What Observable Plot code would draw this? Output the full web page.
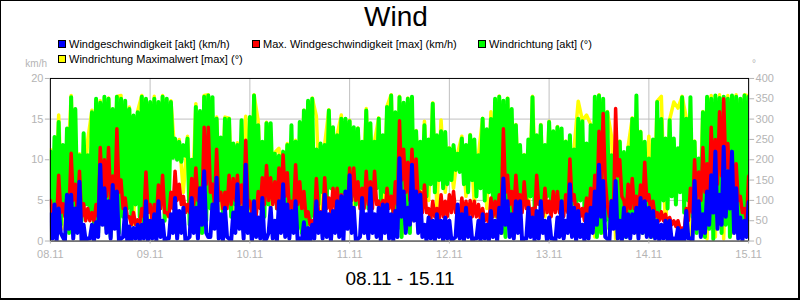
<!DOCTYPE html>
<html><head><meta charset="utf-8">
<script src="https://cdn.jsdelivr.net/npm/d3@7"></script>
<script src="https://cdn.jsdelivr.net/npm/@observablehq/plot@0.6"></script>
<style>
html,body{margin:0;padding:0;background:#fff;}
#box{position:relative;width:800px;height:300px;box-sizing:border-box;border:1px solid #000;border-right-width:2px;border-bottom-width:2px;font-family:"Liberation Sans",Arial,sans-serif;overflow:hidden;background:#fff;}
.abs{position:absolute;white-space:nowrap;line-height:1;}
.sw{position:absolute;width:6px;height:6px;border:1px solid #000;}
#plot{position:absolute;left:-1px;top:59px;}
</style></head><body>
<div id="box">
  <div class="abs" style="left:-1px;top:2px;width:792px;text-align:center;font-size:28px;color:#000;">Wind</div>
  <div class="sw" style="left:57px;top:39px;background:#0000ff;"></div>
  <div class="abs" style="left:68px;top:38px;font-size:11px;color:#000;">Windgeschwindigkeit [akt] (km/h)</div>
  <div class="sw" style="left:251px;top:39px;background:#ff0000;"></div>
  <div class="abs" style="left:262px;top:38px;font-size:11px;color:#000;">Max. Windgeschwindigkeit [max] (km/h)</div>
  <div class="sw" style="left:477px;top:39px;background:#00ff00;"></div>
  <div class="abs" style="left:488px;top:38px;font-size:11px;color:#000;">Windrichtung [akt] (°)</div>
  <div class="sw" style="left:57px;top:54px;background:#ffff00;"></div>
  <div class="abs" style="left:68px;top:53px;font-size:11px;color:#000;">Windrichtung Maximalwert [max] (°)</div>
  <div class="abs" style="left:0px;top:57.5px;width:46px;text-align:right;font-size:10px;color:#b4b4b4;">km/h</div>
  <div class="abs" style="left:751px;top:57.5px;font-size:10px;color:#b4b4b4;">°</div>
  <div id="plot"></div>
  <div class="abs" style="left:0px;top:268px;width:798px;text-align:center;font-size:19px;color:#000;">08.11 - 15.11</div>
</div>
<script>
// x axis: hours since 08.11 00:00
const dayPositions = [0, 24, 48, 72, 96, 120, 144, 168];
const dayLabels = ["08.11", "09.11", "10.11", "11.11", "12.11", "13.11", "14.11", "15.11"];
const kmhTicks = [0, 5, 10, 15, 20];
const degTicks = [0, 50, 100, 150, 200, 250, 300, 350, 400];

// Windrichtung [akt] (°), half-hourly
const windDirection = [
220,60,256,90,293,40,236,70,277,20,354,30,325,80,211,50,265,90,211,60,317,40,350,20,340,70,355,30,350,10,325,40,355,20,350,60,345,80,325,50,309,90,317,60,355,40,350,80,
342,60,350,30,342,90,355,50,350,70,342,205,252,200,244,195,236,210,252,40,200,60,330,30,320,20,355,50,358,80,354,40,301,100,255,70,301,120,300,60,240,90,236,110,297,50,244,80,
305,40,358,70,285,100,244,60,290,90,290,120,215,80,210,110,220,60,236,90,285,50,244,30,293,20,321,10,345,40,350,60,225,90,240,120,236,100,321,130,280,110,260,90,301,120,301,80,
295,110,280,90,277,120,244,100,321,80,290,110,244,130,301,100,260,120,330,90,358,60,317,30,354,10,340,40,350,20,355,60,270,100,244,130,285,110,250,140,338,120,260,150,270,130,268,140,
228,150,236,175,215,170,252,140,236,120,260,150,250,110,211,130,301,100,275,120,300,90,350,60,355,20,345,10,350,40,325,70,285,100,236,120,211,90,250,110,354,80,260,100,285,70,236,110,
293,90,270,120,280,100,277,80,244,110,260,90,225,70,301,100,295,80,240,60,285,40,355,10,358,20,350,50,317,30,211,60,203,20,244,40,219,10,230,50,301,30,358,60,268,20,244,40,
203,10,250,50,342,70,300,100,252,80,297,110,252,90,228,120,354,70,301,100,354,60,244,20,203,40,317,10,355,30,350,5,358,60,352,20,355,40,350,10,358,50,355,20,350,40,358,30,355
];

// Windrichtung Maximalwert [max] (°), hourly
const windDirectionMax = [
225,60,310,30,150,358,60,215,100,250,322,80,345,40,352,70,356,358,60,330,40,320,358,30,
60,356,50,358,60,345,210,250,120,258,60,338,20,358,360,40,305,80,305,302,60,242,90,307,
60,360,295,40,292,80,218,228,60,240,90,248,40,322,50,352,307,60,238,323,100,262,310,90,
297,70,278,100,326,80,246,303,60,332,360,40,356,20,352,50,272,60,295,100,340,80,298,120,
230,130,217,258,110,262,90,213,302,80,318,60,357,20,352,60,287,80,213,60,356,90,287,60,
295,80,282,60,246,40,227,344,297,310,287,10,360,20,319,258,5,246,20,232,303,20,270,40,
258,10,344,356,20,299,342,327,356,303,5,246,30,319,5,358,10,360,5,358,20,360,30,360,357
];

// Max. Windgeschwindigkeit [max] (km/h), half-hourly
const windSpeedMax = [
5.0,3.0,4.5,2.5,8.1,3.5,4.6,3.0,5.5,4.0,10.8,5.0,7.0,3.5,8.6,3.0,4.6,2.5,4.0,2.5,3.5,2.5,4.5,3.0,11.5,6.0,10.0,5.5,11.5,5.0,8.0,5.0,13.8,6.0,7.5,4.0,5.3,3.0,3.0,2.0,3.5,2.0,2.6,2.0,4.0,3.0,8.5,3.5,
4.5,2.5,4.5,3.0,6.9,4.0,8.1,3.5,3.5,3.0,6.0,4.0,8.6,5.0,7.0,4.5,5.5,3.5,4.5,3.5,7.7,4.5,9.0,5.0,6.5,4.5,14.0,7.0,14.0,6.0,7.0,4.5,11.3,5.0,6.0,4.0,6.0,4.0,8.1,4.5,7.7,5.0,8.1,4.5,6.9,4.0,12.4,5.0,
4.9,3.5,4.9,3.0,6.1,4.0,7.8,4.5,9.3,5.0,7.8,4.5,7.3,4.0,9.0,5.0,10.6,5.5,8.4,4.0,4.9,3.5,9.4,4.5,7.3,4.0,6.1,3.0,3.6,2.0,2.5,1.8,7.7,3.5,3.6,2.5,7.8,4.0,5.3,3.5,6.5,4.0,6.5,4.0,5.7,3.5,6.1,4.0,
9.0,5.0,9.0,5.0,7.3,4.0,6.5,4.0,8.6,4.5,7.3,4.0,8.6,4.5,4.9,3.5,5.0,3.5,6.5,4.0,5.5,3.5,7.3,4.5,14.8,7.5,11.3,6.0,9.7,5.0,11.3,6.0,10.1,5.0,6.0,3.5,6.9,3.5,4.0,2.5,4.9,3.0,4.0,2.5,5.7,3.0,4.9,3.0,
5.7,3.5,6.1,3.5,4.0,2.5,5.3,3.0,4.9,3.0,5.0,3.0,4.9,3.0,4.5,2.5,4.0,2.5,3.3,2.0,5.3,3.0,4.9,3.0,5.7,4.0,13.8,6.0,8.1,4.5,6.1,3.5,8.1,4.5,5.7,3.5,7.3,4.0,4.9,3.0,4.0,2.5,8.1,4.5,4.9,3.0,6.5,3.5,
4.9,3.0,6.1,3.5,6.1,3.5,4.5,3.0,5.7,3.5,10.1,5.0,5.7,3.5,4.5,3.0,4.0,2.5,5.3,3.0,6.5,3.5,8.1,4.5,13.5,7.0,15.7,7.5,4.5,3.0,5.0,3.5,16.3,8.0,10.0,5.5,5.0,3.0,7.0,4.0,7.7,4.0,5.5,3.5,6.9,4.0,9.7,5.0,
5.7,3.5,4.9,3.0,3.5,2.5,3.6,2.5,3.3,2.0,2.9,2.0,2.5,1.8,2.5,1.5,1.6,1.2,4.0,2.5,6.5,3.5,10.0,5.0,8.5,5.0,11.5,6.0,9.5,5.5,14.0,7.5,12.5,7.0,15.9,8.0,17.5,9.0,12.0,7.0,10.8,6.0,9.5,5.0,5.5,3.5,4.0,2.5,8.0
];

// Windgeschwindigkeit [akt] (km/h), half-hourly
const windSpeed = [
3.3,0.3,4.5,0.0,4.0,1.0,0.5,0.0,5.7,1.5,5.7,0.3,4.0,1.0,7.3,0.0,2.0,0.0,0.3,0.3,2.0,0.0,2.3,0.5,9.4,2.0,6.5,1.0,4.9,0.3,6.9,1.5,6.1,0.0,0.3,0.5,4.0,0.0,1.8,0.0,1.6,0.3,2.0,0.0,2.0,0.3,4.9,0.0,
2.5,0.3,3.3,0.0,4.9,0.5,2.5,0.0,0.3,0.3,3.3,1.0,5.3,0.3,3.7,1.0,4.1,0.0,0.3,0.5,5.3,1.0,4.1,0.3,6.5,2.0,8.6,1.0,0.5,0.5,4.5,1.5,7.8,0.3,3.3,0.0,4.1,0.5,0.3,0.0,3.5,1.0,7.0,1.5,4.1,0.3,9.4,1.0,
3.3,0.0,4.9,0.5,2.9,0.3,5.3,0.0,0.3,1.0,4.1,0.3,2.5,0.0,4.9,1.0,7.0,0.5,4.5,0.3,3.7,1.0,4.9,0.0,0.3,0.0,2.3,0.0,1.6,0.0,2.0,0.3,4.9,1.0,3.5,0.3,5.7,0.5,3.3,0.0,3.7,1.0,4.9,0.5,5.5,0.0,6.1,1.5,
8.1,1.0,4.1,0.0,0.3,0.5,5.3,1.0,3.3,0.3,6.5,1.0,3.3,0.5,4.1,0.0,4.5,1.0,4.5,0.3,3.3,0.0,3.7,0.5,10.2,3.0,6.1,1.0,4.1,2.0,9.4,2.5,6.1,1.0,5.7,0.5,2.0,0.0,2.9,0.3,2.5,0.0,3.3,0.5,2.5,0.0,2.9,0.3,
2.5,0.0,0.3,0.5,4.5,0.3,3.3,0.0,4.1,0.5,2.9,0.0,0.3,0.3,2.5,0.0,3.3,0.3,2.0,0.0,3.7,0.5,2.5,0.0,4.1,1.0,7.7,2.0,4.9,0.5,3.3,0.3,4.9,1.0,4.9,0.0,0.3,0.3,4.1,0.5,2.9,0.0,3.7,0.3,4.9,1.0,2.5,0.0,
2.9,0.3,0.3,0.0,2.9,0.5,4.9,0.3,2.5,1.0,7.0,0.5,4.1,0.0,3.7,0.5,2.0,0.0,3.3,0.3,4.1,1.0,6.1,2.0,9.4,3.0,7.4,0.5,0.3,0.0,4.9,1.5,7.4,0.3,2.5,0.0,4.1,0.5,3.3,0.3,3.3,1.0,4.1,0.3,5.3,1.0,4.9,0.5,
4.1,0.5,3.7,0.3,2.5,0.0,2.0,0.3,2.5,0.0,2.5,0.0,0.3,0.0,1.6,0.0,1.3,0.0,3.7,0.3,0.3,0.0,7.4,1.5,4.9,0.5,3.3,1.0,6.1,2.0,8.1,3.5,11.0,1.5,5.7,2.0,11.6,3.0,8.6,4.0,11.0,1.0,6.5,0.3,2.9,0.0,2.5,0.5,4.8
];

// right axis (°) shares the plot with the left axis (km/h)
const degToKmh = d3.scaleLinear([0, 400], [0, 20]);
const halfHourX = (d, i) => i * 0.5;
const hourX = (d, i) => i;

const chart = Plot.plot({
  width: 800,
  height: 200,
  marginLeft: 50,
  marginRight: 50,
  marginTop: 18,
  marginBottom: 19,
  x: {domain: [0, 168]},
  y: {domain: [0, 20]},
  style: {fontFamily: '"Liberation Sans", Arial, sans-serif', fontSize: "11px", color: "#b4b4b4", background: "transparent", overflow: "visible"},
  marks: [
    Plot.ruleX(dayPositions, {stroke: "#c0c0c0", strokeWidth: 1}),
    Plot.ruleY(kmhTicks.slice(1, -1), {stroke: "#c0c0c0", strokeWidth: 1}),
    Plot.line(windDirectionMax, {x: hourX, y: d => degToKmh(d), stroke: "#ffff00", strokeWidth: 3.5, clip: true}),
    Plot.line(windDirection, {x: halfHourX, y: d => degToKmh(d), stroke: "#00ff00", strokeWidth: 4, clip: true}),
    Plot.line(windSpeedMax, {x: halfHourX, y: d => d, stroke: "#ff0000", strokeWidth: 3.5, clip: true}),
    Plot.line(windSpeed, {x: halfHourX, y: d => d, stroke: "#0000ff", strokeWidth: 4, clip: true}),
    Plot.frame({stroke: "#000", strokeWidth: 1}),
    Plot.axisX(dayPositions, {tickFormat: d => dayLabels[dayPositions.indexOf(d)], tickSize: 3, tickPadding: 6, label: null}),
    Plot.axisY(kmhTicks, {anchor: "left", tickSize: 5, tickPadding: 2, label: null}),
    Plot.axisY(degTicks.map(d => degToKmh(d)), {anchor: "right", tickSize: 5, tickPadding: 2, tickFormat: d => String(Math.round(degToKmh.invert(d))), label: null})
  ]
});
document.getElementById("plot").appendChild(chart);
</script>
</body></html>
